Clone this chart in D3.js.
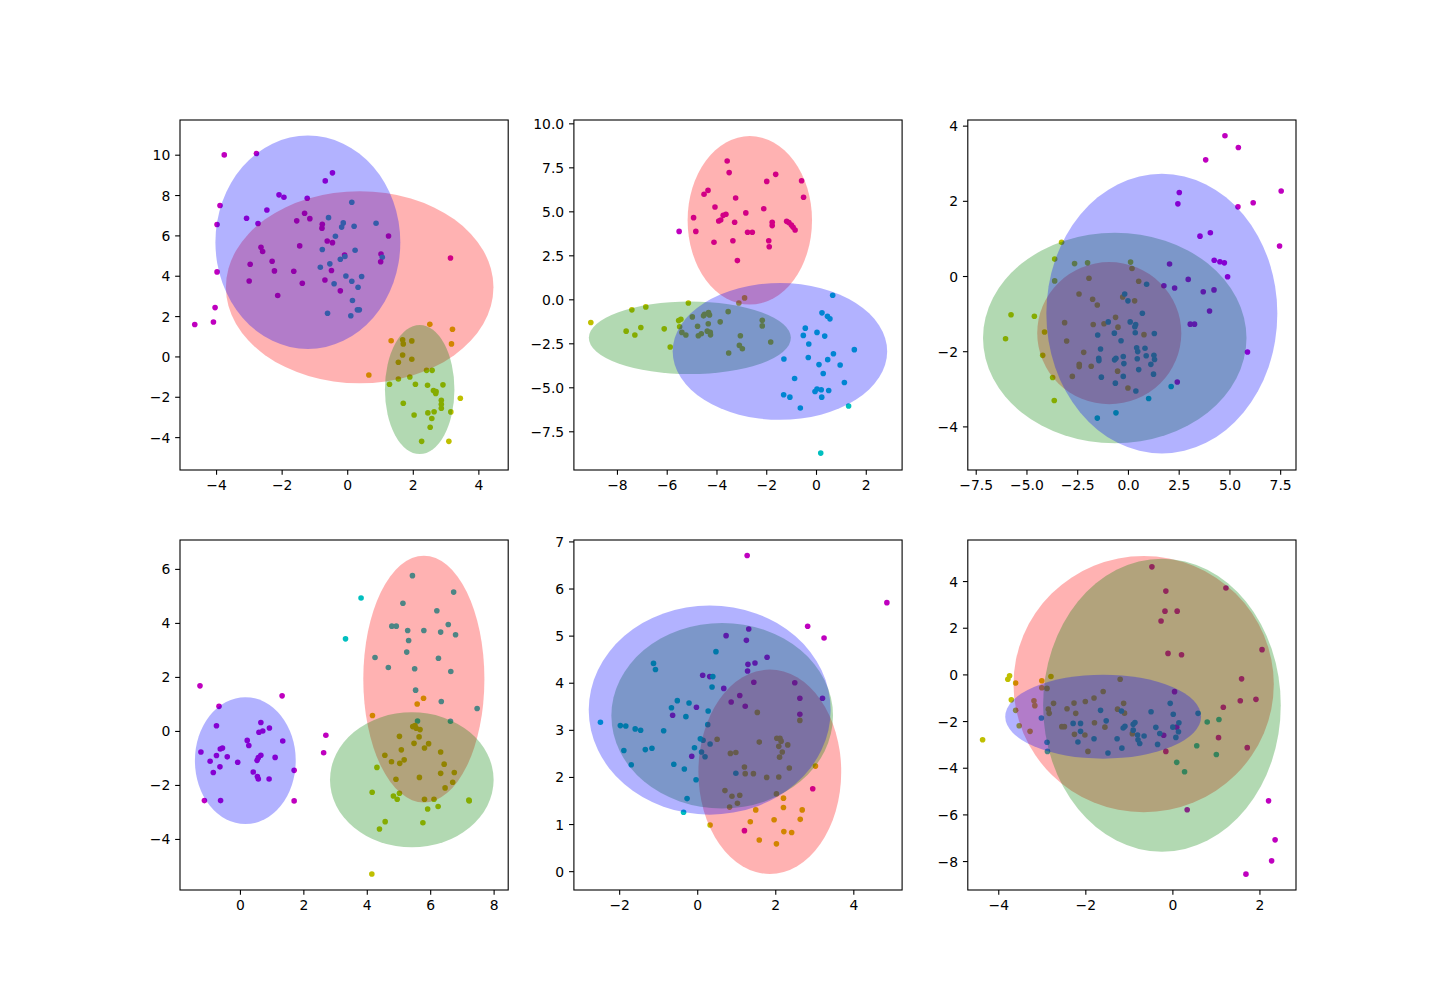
<!DOCTYPE html>
<html><head><meta charset="utf-8">
<script src="https://cdn.jsdelivr.net/npm/d3@7"></script>
<style>body{margin:0;background:#fff}svg{display:block}</style>
</head><body>
<svg id="chart" width="1440" height="1000"></svg>
<script>
// ---------- DATA ----------
const pointColorCodes = ['m', 'c', 'y'];
const pointColorValues = ['#bf00bf', '#00bfbf', '#bfbf00'];
const ellipseColorNames = ['#ff0000', '#008000', '#0000ff']; // drawn in this order: red, green, blue

// Panel 1
const panel1Points = [[-3.75,9.99,'m'],[-2.77,10.06,'m'],[-0.45,9.10,'m'],[-0.67,8.70,'m'],[-2.08,8.01,'m'],[-1.93,7.89,'m'],[-3.88,7.48,'m'],[-1.22,7.84,'m'],[-2.45,7.26,'m'],[-3.07,6.85,'m'],[-2.72,6.59,'m'],[-3.97,6.54,'m'],[-1.30,7.10,'m'],[-1.54,6.72,'m'],[-1.14,6.83,'m'],[-0.76,6.55,'m'],[-0.77,6.36,'m'],[-0.57,6.88,'c'],[0.14,7.64,'c'],[-0.12,6.62,'c'],[-0.17,6.41,'c'],[0.21,6.45,'c'],[0.88,6.60,'c'],[1.26,5.97,'m'],[-0.36,5.96,'c'],[-2.63,5.41,'m'],[-2.58,5.20,'m'],[-1.45,5.48,'m'],[-0.61,5.72,'m'],[-0.45,5.64,'m'],[-0.76,5.30,'c'],[0.24,5.26,'c'],[-0.08,5.03,'m'],[-0.21,4.82,'c'],[-0.07,4.95,'c'],[1.03,5.08,'m'],[1.07,4.92,'c'],[1.02,4.69,'m'],[3.15,4.88,'m'],[-2.96,4.57,'m'],[-2.29,4.72,'m'],[-0.53,4.59,'c'],[-0.82,4.42,'c'],[-3.97,4.19,'m'],[-2.22,4.24,'m'],[-1.63,4.22,'m'],[-0.48,4.26,'m'],[-0.04,3.99,'c'],[0.44,3.96,'c'],[-2.99,3.74,'m'],[-1.37,3.63,'m'],[-0.68,3.79,'m'],[-0.40,3.60,'c'],[0.14,3.73,'c'],[0.33,3.43,'c'],[-0.21,3.25,'m'],[-2.12,3.02,'m'],[0.16,2.77,'c'],[-4.03,2.42,'m'],[-0.60,2.14,'c'],[0.11,2.02,'c'],[0.31,2.31,'c'],[0.37,2.31,'c'],[-4.65,1.58,'m'],[-4.08,1.71,'m'],
[2.52,1.59,'y'],[3.21,1.35,'y'],[3.18,0.62,'y'],[1.34,0.78,'y'],[1.69,0.83,'y'],[1.97,0.77,'y'],[1.71,0.62,'y'],[1.69,0.07,'y'],[1.97,-0.14,'y'],[1.56,-0.29,'y'],[0.66,-0.92,'y'],[2.42,-0.69,'y'],[2.59,-0.69,'y'],[1.56,-1.12,'y'],[1.91,-1.02,'y'],[1.29,-1.38,'y'],[2.08,-1.38,'y'],[2.45,-1.43,'y'],[2.92,-1.41,'y'],[2.63,-1.69,'y'],[2.71,-1.74,'y'],[2.70,-1.84,'y'],[3.45,-2.07,'y'],[2.87,-2.17,'y'],[2.87,-2.37,'y'],[2.87,-2.57,'y'],[1.71,-2.32,'y'],[3.16,-2.75,'y'],[2.65,-2.74,'y'],[2.46,-2.80,'y'],[2.04,-2.90,'y'],[2.58,-3.08,'y'],[2.53,-3.51,'y'],[2.27,-4.21,'y'],[3.10,-4.21,'y']];
const panel1Ellipses = [[0.38,3.43,4.08,4.76],[2.21,-1.64,1.06,3.20],[-1.20,5.66,2.82,5.29]];
const panel1XDomain = [-5.10, 4.91];
const panel1YDomain = [-5.63, 11.72];
const panel1XTicks = [-4,-2,0,2,4];
const panel1XLabels = ['\u22124','\u22122','0','2','4'];
const panel1YTicks = [-4,-2,0,2,4,6,8,10];
const panel1YLabels = ['\u22124','\u22122','0','2','4','6','8','10'];

// Panel 2
const panel2Points = [[-3.57,7.86,'m'],[-3.49,7.20,'m'],[-1.62,7.10,'m'],[-1.98,6.70,'m'],[-0.58,6.74,'m'],[-0.50,5.80,'m'],[-4.34,6.19,'m'],[-4.50,5.97,'m'],[-3.23,5.76,'m'],[-4.06,5.25,'m'],[-2.10,5.15,'m'],[-2.82,4.91,'m'],[-4.92,4.64,'m'],[-3.62,4.83,'m'],[-3.73,4.77,'m'],[-3.83,4.51,'m'],[-3.91,4.45,'m'],[-3.27,4.38,'m'],[-1.76,4.38,'m'],[-1.76,4.19,'m'],[-1.18,4.43,'m'],[-1.09,4.36,'m'],[-0.99,4.22,'m'],[-0.92,4.09,'m'],[-0.84,3.94,'m'],[-4.83,3.86,'m'],[-2.75,3.81,'m'],[-2.56,3.81,'m'],[-5.50,3.86,'m'],[-3.34,3.33,'m'],[-1.90,3.33,'m'],[-1.88,2.99,'m'],[-4.10,3.24,'m'],[-3.16,2.20,'m'],
[-2.87,0.08,'y'],[-3.10,-0.21,'y'],[-9.05,-1.32,'y'],[-7.40,-0.60,'y'],[-6.84,-0.43,'y'],[-5.13,-0.21,'y'],[-7.63,-1.81,'y'],[-7.28,-2.03,'y'],[-7.04,-1.60,'y'],[-6.10,-1.68,'y'],[-5.86,-2.71,'y'],[-5.52,-1.21,'y'],[-5.43,-1.13,'y'],[-5.48,-1.56,'y'],[-5.39,-1.88,'y'],[-5.23,-2.03,'y'],[-4.97,-1.00,'y'],[-4.52,-0.94,'y'],[-4.48,-0.85,'y'],[-4.32,-0.75,'y'],[-4.28,-0.89,'y'],[-4.76,-1.53,'y'],[-4.33,-1.39,'y'],[-3.85,-1.28,'y'],[-3.53,-0.70,'y'],[-4.61,-1.96,'y'],[-4.73,-2.07,'y'],[-4.37,-1.81,'y'],[-4.25,-1.88,'y'],[-4.24,-2.02,'y'],[-3.04,-2.07,'y'],[-2.16,-1.19,'y'],[-2.16,-1.51,'y'],[-1.82,-2.43,'y'],[-3.08,-2.62,'y'],[-2.96,-2.81,'y'],[-3.51,-3.05,'y'],
[0.67,0.23,'c'],[0.24,-0.77,'c'],[0.46,-0.96,'c'],[0.56,-1.11,'c'],[-0.43,-1.64,'c'],[-0.51,-2.05,'c'],[0.04,-1.88,'c'],[0.35,-2.09,'c'],[-0.29,-2.54,'c'],[0.70,-3.09,'c'],[1.54,-2.86,'c'],[-1.29,-3.39,'c'],[-0.31,-3.31,'c'],[0.47,-3.43,'c'],[0.12,-3.71,'c'],[0.97,-3.73,'c'],[0.29,-4.22,'c'],[-0.86,-4.50,'c'],[1.14,-4.73,'c'],[-0.04,-5.24,'c'],[0.04,-5.10,'c'],[0.21,-5.14,'c'],[0.51,-5.18,'c'],[-1.30,-5.42,'c'],[-1.05,-5.56,'c'],[0.23,-5.56,'c'],[-0.63,-6.18,'c'],[1.31,-6.06,'c'],[0.19,-8.74,'c']];
const panel2Ellipses = [[-2.66,4.49,2.50,4.79],[-5.07,-2.19,4.06,2.06],[-1.45,-2.96,4.31,3.89]];
const panel2XDomain = [-9.73, 3.46];
const panel2YDomain = [-9.70, 10.19];
const panel2XTicks = [-8,-6,-4,-2,0,2];
const panel2XLabels = ['\u22128','\u22126','\u22124','\u22122','0','2'];
const panel2YTicks = [-7.5,-5,-2.5,0,2.5,5,7.5,10];
const panel2YLabels = ['\u22127.5','\u22125.0','\u22122.5','0.0','2.5','5.0','7.5','10.0'];

// Panel 3
const panel3Points = [[4.78,3.73,'m'],[5.44,3.42,'m'],[3.83,3.09,'m'],[7.55,2.26,'m'],[2.53,2.22,'m'],[2.46,1.92,'m'],[6.17,1.95,'m'],[5.42,1.84,'m'],[3.55,1.06,'m'],[4.06,1.15,'m'],[7.47,0.80,'m'],[4.25,0.42,'m'],[4.53,0.38,'m'],[4.75,0.35,'m'],[4.91,-0.02,'m'],[2.05,0.32,'m'],[1.77,-0.26,'m'],[2.30,-0.32,'m'],[2.97,-0.09,'m'],[3.71,-0.42,'m'],[4.24,-0.37,'m'],[4.02,-0.93,'m'],[3.07,-1.28,'m'],[3.28,-1.28,'m'],[5.89,-2.02,'m'],[2.43,-2.82,'m'],
[-3.27,0.90,'y'],[-3.61,0.45,'y'],[-3.61,-0.13,'y'],[-2.63,0.33,'y'],[-1.99,0.35,'y'],[0.13,0.37,'y'],[0.20,0.20,'y'],[-1.92,-0.06,'y'],[0.53,-0.14,'y'],[-2.41,-0.48,'y'],[-1.74,-0.62,'y'],[-1.51,-0.77,'y'],[-0.26,-0.56,'y'],[0.33,-0.66,'y'],[-5.76,-1.03,'y'],[-4.61,-1.07,'y'],[-6.03,-1.67,'y'],[-4.11,-1.49,'y'],[-4.20,-2.11,'y'],[-3.71,-2.70,'y'],[-3.63,-3.31,'y'],[-3.12,-1.24,'y'],[-3.02,-1.73,'y'],[-2.18,-2.03,'y'],[-2.40,-2.35,'y'],[-2.40,-2.41,'y'],[-2.74,-2.67,'y'],[-1.81,-2.40,'y'],[-1.71,-1.29,'y'],[-1.18,-1.27,'y'],[-0.61,-1.10,'y'],[-0.49,-1.36,'y'],[0.79,-1.56,'y'],[-0.51,-2.53,'y'],[0.00,-2.98,'y'],
[0.92,-0.22,'c'],[-0.16,-0.48,'c'],[0.00,-0.66,'c'],[0.71,-0.99,'c'],[-0.97,-1.22,'c'],[0.11,-1.22,'c'],[0.38,-1.29,'c'],[0.34,-1.35,'c'],[-1.49,-1.57,'c'],[-0.67,-1.52,'c'],[0.36,-1.51,'c'],[1.30,-1.53,'c'],[-0.34,-1.72,'c'],[-1.35,-1.94,'c'],[0.43,-1.91,'c'],[0.48,-2.01,'c'],[0.84,-1.92,'c'],[0.90,-2.12,'c'],[1.28,-2.11,'c'],[1.31,-2.22,'c'],[-1.44,-2.19,'c'],[-1.43,-2.25,'c'],[-0.59,-2.19,'c'],[-0.66,-2.23,'c'],[-0.23,-2.14,'c'],[-0.20,-2.33,'c'],[0.46,-2.20,'c'],[0.53,-2.49,'c'],[1.13,-2.35,'c'],[1.26,-2.61,'c'],[-1.31,-2.69,'c'],[-0.23,-2.67,'c'],[-0.62,-2.85,'c'],[0.39,-3.06,'c'],[1.02,-3.26,'c'],[2.13,-2.94,'c'],[-0.59,-3.64,'c'],[-1.51,-3.78,'c']];
const panel3Ellipses = [[-0.92,-1.52,3.55,1.89],[-0.65,-1.65,6.49,2.80],[1.67,-1.00,5.69,3.72]];
const panel3XDomain = [-7.89, 8.28];
const panel3YDomain = [-5.16, 4.15];
const panel3XTicks = [-7.5,-5,-2.5,0,2.5,5,7.5];
const panel3XLabels = ['\u22127.5','\u22125.0','\u22122.5','0.0','2.5','5.0','7.5'];
const panel3YTicks = [-4,-2,0,2,4];
const panel3YLabels = ['\u22124','\u22122','0','2','4'];

// Panel 4
const panel4Points = [[5.44,5.75,'c'],[6.74,5.14,'c'],[3.82,4.92,'c'],[5.14,4.73,'c'],[6.21,4.45,'c'],[4.79,3.88,'c'],[4.93,3.88,'c'],[5.29,3.72,'c'],[5.80,3.72,'c'],[6.57,3.94,'c'],[6.33,3.66,'c'],[6.80,3.56,'c'],[5.32,3.35,'c'],[3.33,3.41,'c'],[5.26,2.92,'c'],[4.26,2.72,'c'],[6.26,2.69,'c'],[4.68,2.35,'c'],[5.51,2.30,'c'],[6.65,2.20,'c'],[5.54,1.51,'c'],[6.35,1.09,'c'],[7.48,0.83,'c'],[5.60,0.37,'c'],[6.64,0.36,'c'],
[5.79,1.21,'y'],[5.59,1.00,'y'],[4.18,0.57,'y'],
[-1.26,1.67,'m'],[1.33,1.30,'m'],[-0.66,0.91,'m'],[-0.74,0.19,'m'],[0.66,0.31,'m'],[0.93,0.11,'m'],[0.72,0.00,'m'],[0.60,-0.05,'m'],[0.23,-0.35,'m'],[0.28,-0.54,'m'],[1.35,-0.37,'m'],[-1.23,-0.78,'m'],[-0.94,-1.12,'m'],[-0.74,-0.91,'m'],[-0.62,-0.67,'m'],[-0.55,-0.63,'m'],[-0.40,-0.96,'m'],[-0.07,-1.16,'m'],[-0.84,-1.54,'m'],[-0.63,-1.33,'m'],[0.54,-1.09,'m'],[0.58,-0.99,'m'],[0.66,-0.90,'m'],[1.11,-0.98,'m'],[0.42,-1.52,'m'],[0.55,-1.69,'m'],[0.58,-1.78,'m'],[0.92,-1.78,'m'],[1.71,-1.46,'m'],[-1.12,-2.58,'m'],[-0.61,-2.58,'m'],[1.71,-2.59,'m'],[2.71,-0.16,'m'],[2.64,-0.81,'m'],
[5.45,0.16,'y'],[5.52,0.20,'y'],[5.56,0.10,'y'],[5.68,0.05,'y'],[5.03,-0.20,'y'],[5.65,-0.22,'y'],[5.49,-0.46,'y'],[5.95,-0.47,'y'],[5.82,-0.63,'y'],[5.09,-0.70,'y'],[6.33,-0.78,'y'],[4.57,-0.90,'y'],[5.18,-1.07,'y'],[5.04,-1.20,'y'],[4.78,-1.14,'y'],[6.44,-1.23,'y'],[6.76,-1.54,'y'],[6.33,-1.57,'y'],[5.66,-1.72,'y'],[4.92,-1.79,'y'],[6.71,-1.90,'y'],[6.47,-2.11,'y'],[4.32,-1.35,'y'],[4.17,-2.27,'y'],[5.03,-2.31,'y'],[4.84,-2.41,'y'],[4.96,-2.53,'y'],[5.82,-2.53,'y'],[6.12,-2.53,'y'],[7.22,-2.56,'y'],[7.23,-2.59,'y'],[5.92,-2.89,'y'],[6.25,-2.80,'y'],[4.58,-3.36,'y'],[4.40,-3.63,'y'],[5.77,-3.40,'y'],[4.16,-5.30,'y']];
const panel4Ellipses = [[5.80,1.92,1.91,4.57],[5.42,-1.81,2.58,2.50],[0.17,-1.10,1.59,2.35]];
const panel4XDomain = [-1.89, 8.46];
const panel4YDomain = [-5.89, 7.07];
const panel4XTicks = [0,2,4,6,8];
const panel4XLabels = ['0','2','4','6','8'];
const panel4YTicks = [-4,-2,0,2,4,6];
const panel4YLabels = ['\u22124','\u22122','0','2','4','6'];

// Panel 5
const panel5Points = [[1.28,6.70,'m'],[4.86,5.70,'m'],[2.83,5.20,'m'],[3.25,4.95,'m'],[0.74,5.00,'m'],[1.32,5.14,'m'],[1.26,4.90,'m'],[1.79,4.54,'m'],[1.30,4.39,'m'],[1.48,4.42,'m'],[1.29,4.25,'m'],[0.14,4.16,'m'],[0.32,4.13,'m'],[1.45,4.01,'m'],[2.50,4.00,'m'],[0.68,3.88,'m'],[1.09,3.73,'m'],[2.63,3.67,'m'],[3.21,3.67,'m'],[0.87,3.59,'m'],[1.23,3.50,'m'],[-0.02,3.48,'m'],[-0.63,3.31,'m'],[2.63,3.33,'m'],[-0.14,2.44,'m'],[1.21,0.86,'m'],[2.96,1.75,'m'],
[-1.12,4.41,'c'],[-1.07,4.28,'c'],[0.48,4.66,'c'],[0.40,4.13,'c'],[0.38,3.91,'c'],[-0.51,3.62,'c'],[-0.21,3.57,'c'],[-0.66,3.47,'c'],[-0.29,3.28,'c'],[0.28,3.40,'c'],[0.27,3.11,'c'],[-2.48,3.16,'c'],[-1.97,3.09,'c'],[-1.83,3.08,'c'],[-1.59,3.02,'c'],[-1.45,2.99,'c'],[-0.86,2.98,'c'],[-1.88,2.56,'c'],[-1.33,2.58,'c'],[-1.16,2.61,'c'],[-1.69,2.26,'c'],[-0.60,2.27,'c'],[-0.33,2.17,'c'],[-0.03,1.94,'c'],[-0.26,1.54,'c'],[-0.35,1.25,'c'],[0.08,2.81,'c'],[0.15,2.78,'c'],[-0.07,2.62,'c'],[0.11,2.53,'c'],[0.33,2.70,'c'],[0.20,2.43,'c'],[0.99,2.08,'c'],
[1.54,3.37,'y'],[2.63,3.20,'y'],[0.51,2.80,'y'],[1.59,2.74,'y'],[2.04,2.82,'y'],[2.12,2.82,'y'],[2.15,2.76,'y'],[2.32,2.68,'y'],[2.09,2.65,'y'],[2.18,2.53,'y'],[2.11,2.42,'y'],[0.85,2.50,'y'],[0.99,2.52,'y'],[1.21,2.21,'y'],[1.23,2.07,'y'],[1.44,2.07,'y'],[1.78,1.99,'y'],[2.09,2.00,'y'],[2.36,2.19,'y'],[3.03,2.23,'y'],[0.71,1.71,'y'],[0.89,1.59,'y'],[1.09,1.61,'y'],[2.03,1.64,'y'],[1.03,1.44,'y'],[0.83,1.36,'y'],[2.21,1.55,'y'],[2.21,1.35,'y'],[1.50,1.30,'y'],[2.69,1.30,'y'],[1.36,1.05,'y'],[1.97,1.09,'y'],[2.64,1.10,'y'],[0.33,0.98,'y'],[2.22,0.84,'y'],[2.42,0.82,'y'],[1.59,0.66,'y'],[2.03,0.58,'y']];
const panel5Ellipses = [[1.86,2.11,1.83,2.17],[0.64,3.30,2.84,1.97],[0.32,3.42,3.10,2.22]];
const panel5XDomain = [-3.16, 5.25];
const panel5YDomain = [-0.40, 7.03];
const panel5XTicks = [-2,0,2,4];
const panel5XLabels = ['\u22122','0','2','4'];
const panel5YTicks = [0,1,2,3,4,5,6,7];
const panel5YLabels = ['0','1','2','3','4','5','6','7'];

// Panel 6
const panel6Points = [[-0.47,4.61,'m'],[-0.15,3.57,'m'],[1.23,3.70,'m'],[-0.17,2.71,'m'],[0.11,2.71,'m'],[-0.26,2.29,'m'],[2.06,1.06,'m'],[-0.10,0.90,'m'],[0.21,0.84,'m'],[1.59,-0.19,'m'],[1.56,-1.13,'m'],[1.92,-1.07,'m'],[1.17,-1.41,'m'],[0.05,-0.74,'m'],[0.10,-2.26,'m'],[-0.20,-2.61,'m'],[-0.15,-3.30,'m'],[1.06,-2.71,'m'],[1.72,-3.14,'m'],[0.34,-5.80,'m'],[2.21,-5.42,'m'],[2.36,-7.09,'m'],[2.28,-7.99,'m'],[1.69,-8.56,'m'],
[-3.78,-0.21,'y'],[-3.74,-0.06,'y'],[-3.60,-0.37,'y'],[-3.00,-0.27,'y'],[-2.79,-0.09,'y'],[-3.00,-0.57,'y'],[-2.88,-0.60,'y'],[-3.70,-1.09,'y'],[-3.60,-1.54,'y'],[-3.18,-1.13,'y'],[-3.16,-1.34,'y'],[-2.73,-1.24,'y'],[-2.85,-1.49,'y'],[-2.83,-1.67,'y'],[-2.42,-1.47,'y'],[-2.26,-1.23,'y'],[-2.22,-1.67,'y'],[-2.00,-1.16,'y'],[-1.80,-1.01,'y'],[-1.59,-0.73,'y'],[-1.20,-0.21,'y'],[-1.26,-1.49,'y'],[-1.12,-1.24,'y'],[-1.10,-1.66,'y'],[-3.52,-2.20,'y'],[-4.36,-2.80,'y'],[-3.27,-2.44,'y'],[-2.54,-2.24,'y'],[-2.48,-2.24,'y'],[-2.25,-2.57,'y'],[-2.01,-2.60,'y'],[-1.79,-2.07,'y'],[-1.55,-2.26,'y'],[-1.94,-3.30,'y'],[-0.92,-2.54,'y'],
[-3.01,-1.87,'c'],[-1.65,-1.54,'c'],[-0.49,-1.60,'c'],[-0.05,-1.24,'c'],[0.02,-1.71,'c'],[0.15,-2.07,'c'],[0.59,-1.67,'c'],[0.80,-2.04,'c'],[1.07,-1.93,'c'],[-1.52,-1.99,'c'],[-1.17,-1.57,'c'],[-2.88,-2.91,'c'],[-2.87,-3.30,'c'],[-2.28,-2.10,'c'],[-2.11,-2.10,'c'],[-2.11,-2.44,'c'],[-2.17,-2.90,'c'],[-1.80,-2.76,'c'],[-1.48,-3.37,'c'],[-1.27,-2.76,'c'],[-1.16,-3.16,'c'],[-1.13,-2.30,'c'],[-1.09,-2.22,'c'],[-0.90,-2.14,'c'],[-0.86,-2.06,'c'],[-0.90,-2.39,'c'],[-0.80,-2.60,'c'],[-0.79,-2.80,'c'],[-0.75,-2.96,'c'],[-0.65,-2.64,'c'],[-0.38,-2.27,'c'],[-0.34,-3.00,'c'],[-0.29,-2.53,'c'],[0.01,-2.26,'c'],[0.08,-2.70,'c'],[0.14,-2.46,'c'],[0.56,-3.06,'c'],[1.01,-3.43,'c'],[0.10,-3.77,'c'],[0.28,-4.17,'c']];
const panel6Ellipses = [[-0.66,-0.42,2.99,5.49],[-0.24,-1.32,2.73,6.28],[-1.59,-1.81,2.25,1.80]];
const panel6XDomain = [-4.70, 2.84];
const panel6YDomain = [-9.24, 5.76];
const panel6XTicks = [-4,-2,0,2];
const panel6XLabels = ['\u22124','\u22122','0','2'];
const panel6YTicks = [-8,-6,-4,-2,0,2,4];
const panel6YLabels = ['\u22128','\u22126','\u22124','\u22122','0','2','4'];

// ---------- LAYOUT ----------
const panels = [
  {pts: panel1Points, ell: panel1Ellipses, xd: panel1XDomain, yd: panel1YDomain, xt: panel1XTicks, xl: panel1XLabels, yt: panel1YTicks, yl: panel1YLabels},
  {pts: panel2Points, ell: panel2Ellipses, xd: panel2XDomain, yd: panel2YDomain, xt: panel2XTicks, xl: panel2XLabels, yt: panel2YTicks, yl: panel2YLabels},
  {pts: panel3Points, ell: panel3Ellipses, xd: panel3XDomain, yd: panel3YDomain, xt: panel3XTicks, xl: panel3XLabels, yt: panel3YTicks, yl: panel3YLabels},
  {pts: panel4Points, ell: panel4Ellipses, xd: panel4XDomain, yd: panel4YDomain, xt: panel4XTicks, xl: panel4XLabels, yt: panel4YTicks, yl: panel4YLabels},
  {pts: panel5Points, ell: panel5Ellipses, xd: panel5XDomain, yd: panel5YDomain, xt: panel5XTicks, xl: panel5XLabels, yt: panel5YTicks, yl: panel5YLabels},
  {pts: panel6Points, ell: panel6Ellipses, xd: panel6XDomain, yd: panel6YDomain, xt: panel6XTicks, xl: panel6XLabels, yt: panel6YTicks, yl: panel6YLabels}
];

const svg = d3.select('#chart');
const colorScale = d3.scaleOrdinal().domain(pointColorCodes).range(pointColorValues);
const axW = 328.2, axH = 350;
const colX = [180, 573.9, 967.8];
const rowY = [120, 540];
const FONT = '13.9px "DejaVu Sans", sans-serif';
const tickLen = 4.86, tickPad = 4.86;

panels.forEach((p, i) => {
  const x0 = colX[i % 3], y0 = rowY[Math.floor(i / 3)];
  const g = svg.append('g').attr('transform', `translate(${x0},${y0})`);
  const xs = d3.scaleLinear().domain(p.xd).range([0, axW]);
  const ys = d3.scaleLinear().domain(p.yd).range([axH, 0]);

  const clipId = 'clip' + i;
  g.append('clipPath').attr('id', clipId).append('rect').attr('width', axW).attr('height', axH);
  const plot = g.append('g').attr('clip-path', `url(#${clipId})`);

  // points first
  plot.selectAll('circle').data(p.pts).join('circle')
    .attr('cx', d => xs(d[0])).attr('cy', d => ys(d[1])).attr('r', 2.8)
    .attr('fill', d => colorScale(d[2]));

  // ellipses on top, alpha 0.3
  plot.selectAll('ellipse').data(p.ell).join('ellipse')
    .attr('cx', d => xs(d[0])).attr('cy', d => ys(d[1]))
    .attr('rx', d => Math.abs(xs(d[0] + d[2]) - xs(d[0])))
    .attr('ry', d => Math.abs(ys(d[1] + d[3]) - ys(d[1])))
    .attr('fill', (d, k) => ellipseColorNames[k]).attr('fill-opacity', 0.3);

  // axes
  const xAxis = d3.axisBottom(xs).tickValues(p.xt).tickFormat((d, k) => p.xl[k]).tickSize(tickLen).tickPadding(tickPad);
  const yAxis = d3.axisLeft(ys).tickValues(p.yt).tickFormat((d, k) => p.yl[k]).tickSize(tickLen).tickPadding(tickPad);
  const gx = g.append('g').attr('transform', `translate(0,${axH})`).call(xAxis);
  const gy = g.append('g').call(yAxis);
  [gx, gy].forEach(a => {
    a.select('.domain').remove();
    a.selectAll('line').attr('stroke', '#000').attr('stroke-width', 1.1);
    a.selectAll('text').style('font', FONT).attr('fill', '#000');
  });
  gx.selectAll('text').attr('dy', '0.76em');
  gy.selectAll('text').attr('dy', '0.36em');

  g.append('rect').attr('width', axW).attr('height', axH)
    .attr('fill', 'none').attr('stroke', '#000').attr('stroke-width', 1.1);
});
</script>
</body></html>
